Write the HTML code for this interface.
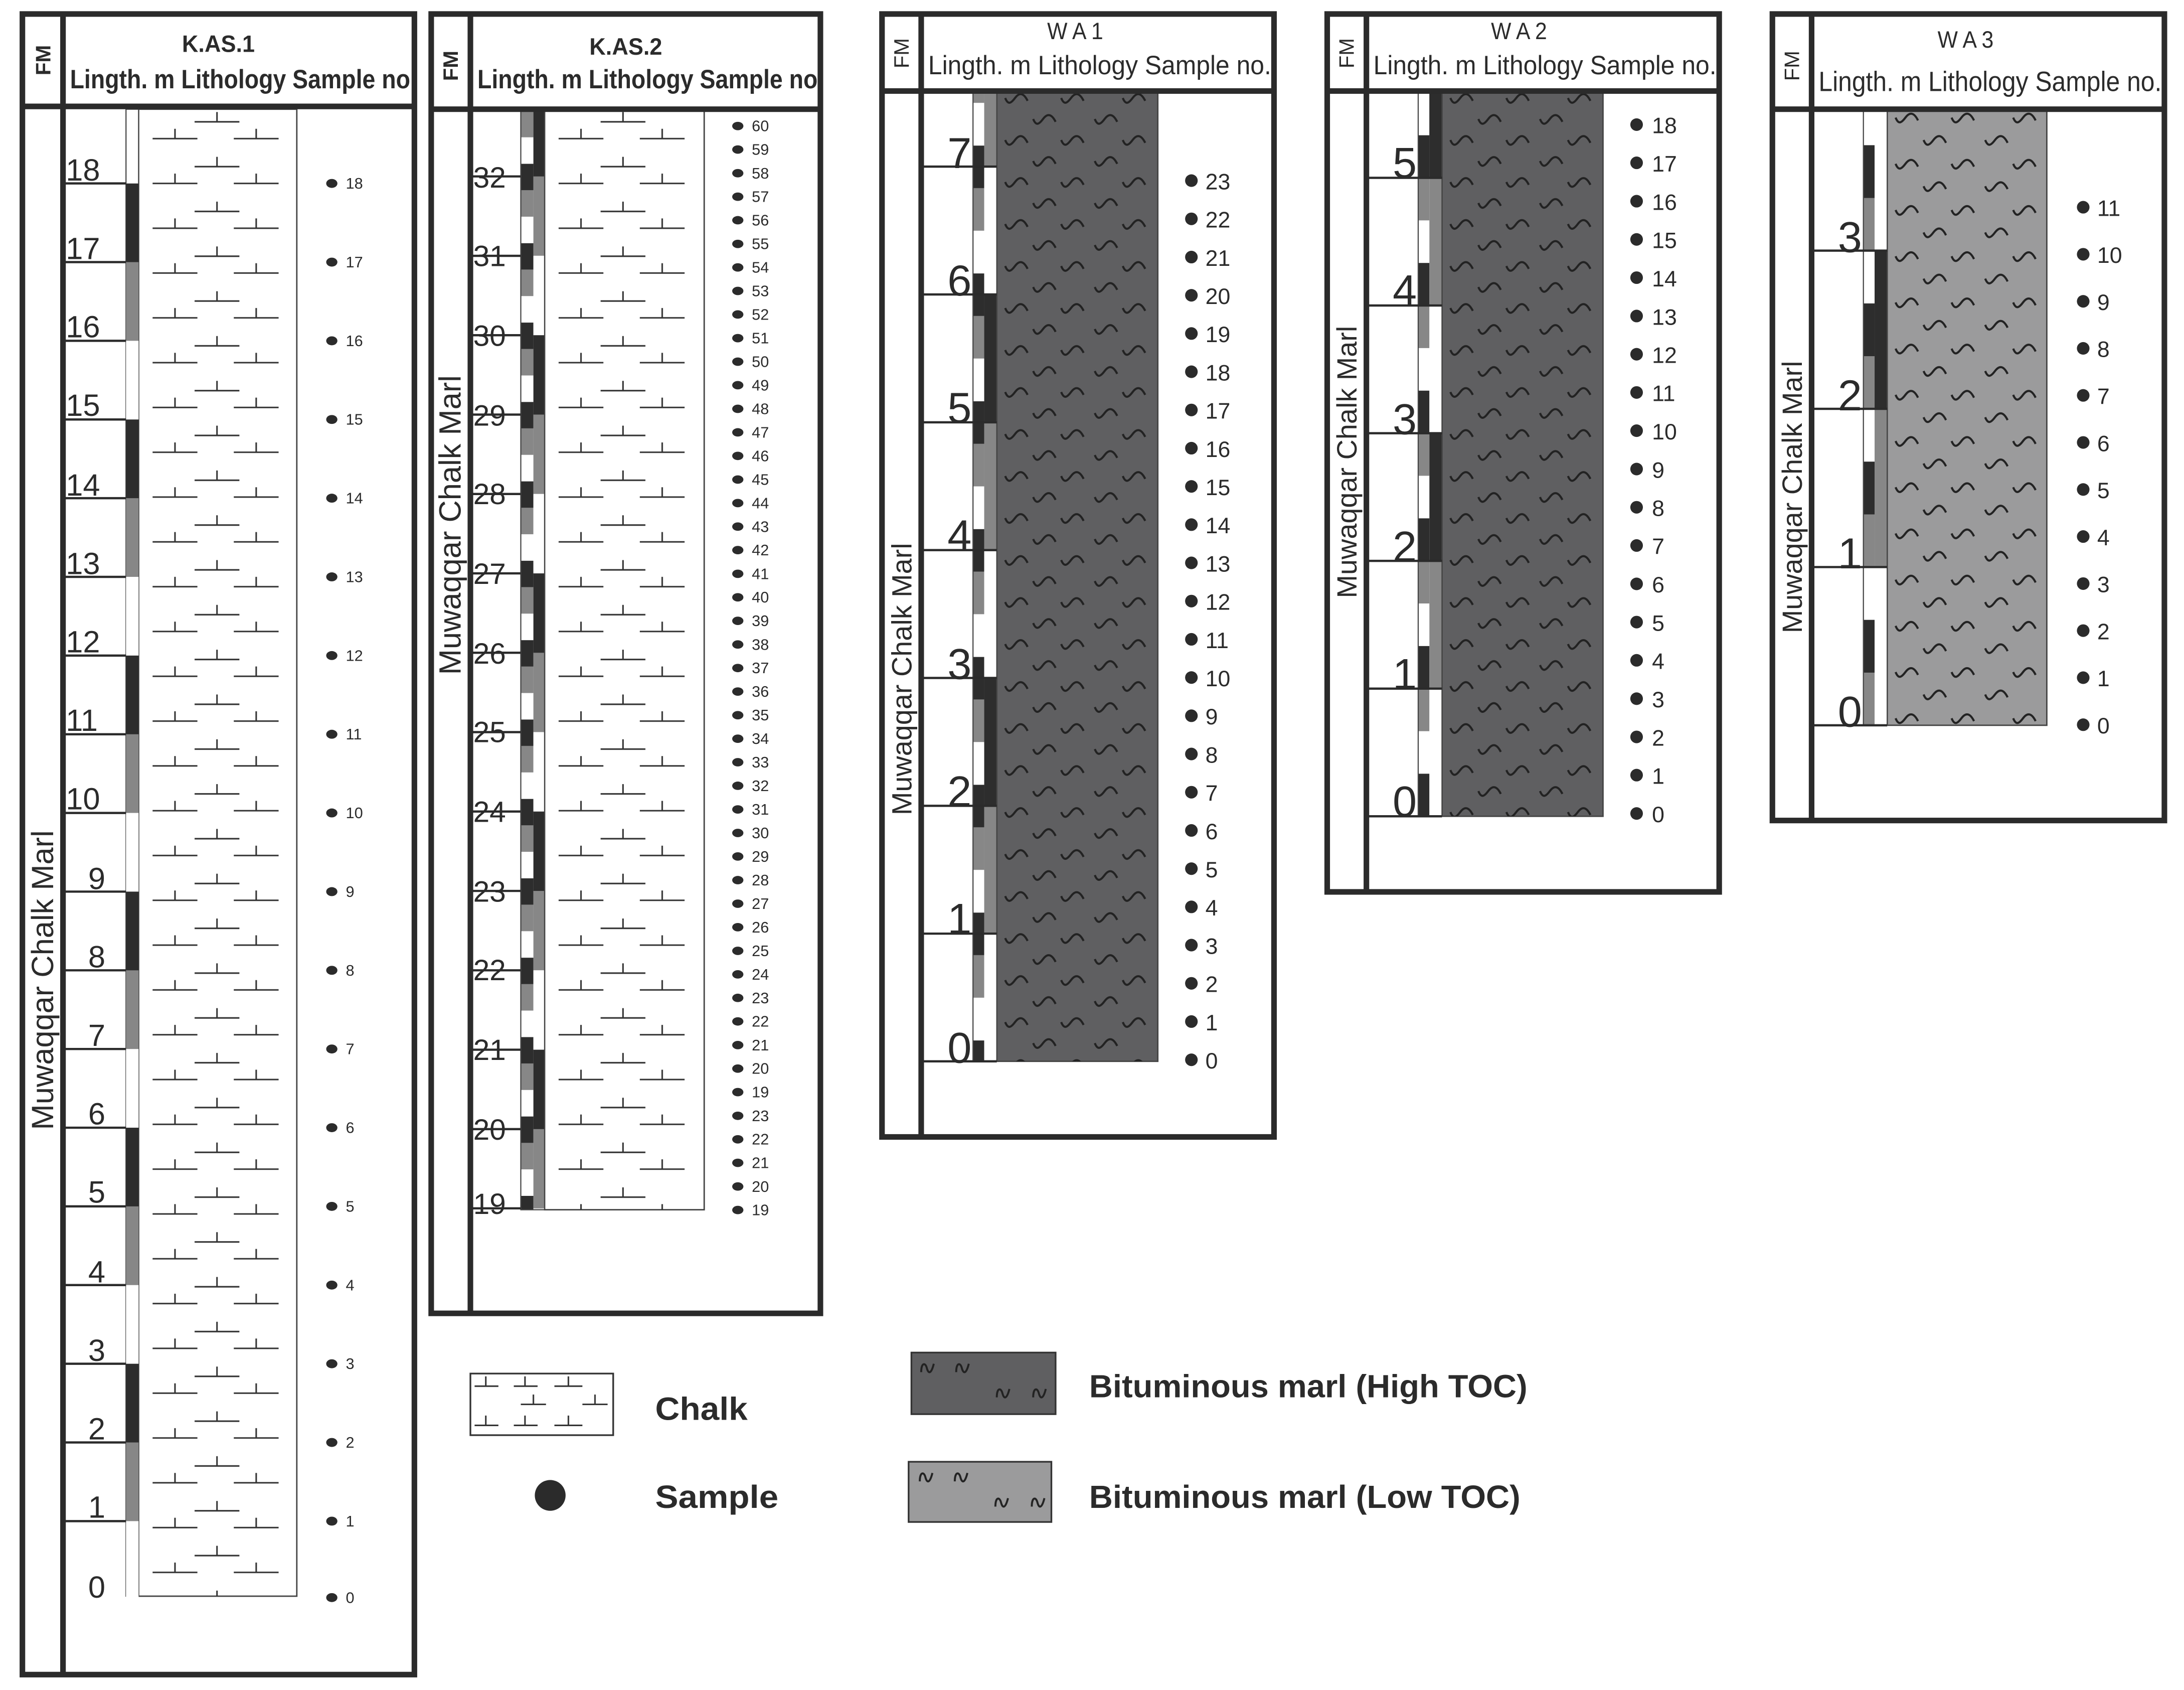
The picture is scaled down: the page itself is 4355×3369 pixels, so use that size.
<!DOCTYPE html>
<html><head><meta charset="utf-8"><style>
html,body{margin:0;padding:0;background:#fff;}
svg{display:block;}
text{font-family:"Liberation Sans",sans-serif;fill:#2b2b2b;}
</style></head><body>
<svg width="4355" height="3369" viewBox="0 0 1560 1207" preserveAspectRatio="none" xmlns="http://www.w3.org/2000/svg">
<defs>
<pattern id="chalk" patternUnits="userSpaceOnUse" x="99" y="78" width="114" height="32">
<g stroke="#333" stroke-width="1.1" fill="none">
<path d="M40 9H72M56 9V2"/>
<path d="M10 21H42M26 21V14M68 21H100M84 21V14"/>
</g></pattern>
<pattern id="chalk2" patternUnits="userSpaceOnUse" x="389" y="78" width="114" height="32">
<g stroke="#333" stroke-width="1.1" fill="none">
<path d="M40 9H72M56 9V2"/>
<path d="M10 21H42M26 21V14M68 21H100M84 21V14"/>
</g></pattern>
<pattern id="chalkL" patternUnits="userSpaceOnUse" x="336" y="981" width="102" height="44">
<g stroke="#333" stroke-width="1.1" fill="none">
<path d="M3 9H20M11 9V2M31 9H48M39 9V2"/>
<path d="M36 22H54M45 22V15"/>
<path d="M3 37H20M11 37V30M31 37H48M39 37V30"/>
<path d="M60 9H80M70 9V2M80 22H98M89 22V15M60 37H80M70 37V30"/>
</g></pattern>
<pattern id="marl" patternUnits="userSpaceOnUse" x="712" y="65" width="115" height="30">
<g stroke="#222" stroke-width="1.5" fill="none">
<path d="M6 5c2 5 4 4 7 0s6-4 9 2M46 5c2 5 4 4 7 0s6-4 9 2M90 5c2 5 4 4 7 0s6-4 9 2"/>
<path d="M26 20c2 5 4 4 7 0s6-4 9 2M70 20c2 5 4 4 7 0s6-4 9 2"/>
</g></pattern>
<pattern id="marl2" patternUnits="userSpaceOnUse" x="1030" y="65" width="115" height="30">
<g stroke="#222" stroke-width="1.5" fill="none">
<path d="M6 5c2 5 4 4 7 0s6-4 9 2M46 5c2 5 4 4 7 0s6-4 9 2M90 5c2 5 4 4 7 0s6-4 9 2"/>
<path d="M26 20c2 5 4 4 7 0s6-4 9 2M70 20c2 5 4 4 7 0s6-4 9 2"/>
</g></pattern>
<pattern id="marl3" patternUnits="userSpaceOnUse" x="1348" y="78" width="114" height="33">
<g stroke="#222" stroke-width="1.5" fill="none">
<path d="M6 6c2 5 4 4 7 0s6-4 9 2M46 6c2 5 4 4 7 0s6-4 9 2M90 6c2 5 4 4 7 0s6-4 9 2"/>
<path d="M26 22c2 5 4 4 7 0s6-4 9 2M70 22c2 5 4 4 7 0s6-4 9 2"/>
</g></pattern>
<pattern id="marlL" patternUnits="userSpaceOnUse" x="650" y="966" width="104" height="44">
<g stroke="#222" stroke-width="1.4" fill="none">
<path d="M8 14c0-7 3-7 4-3s3 5 5-3M33 14c0-7 3-7 4-3s3 5 5-3M62 32c0-7 3-7 4-3s3 5 5-3M88 32c0-7 3-7 4-3s3 5 5-3"/>
</g></pattern>
<pattern id="marlL2" patternUnits="userSpaceOnUse" x="649" y="1044" width="104" height="44">
<g stroke="#222" stroke-width="1.4" fill="none">
<path d="M8 14c0-7 3-7 4-3s3 5 5-3M33 14c0-7 3-7 4-3s3 5 5-3M62 32c0-7 3-7 4-3s3 5 5-3M88 32c0-7 3-7 4-3s3 5 5-3"/>
</g></pattern>
<pattern id="s1" patternUnits="userSpaceOnUse" x="0" y="131" width="20" height="168.6">
<rect y="0" width="20" height="56.2" fill="#2d2d2d"/><rect y="56.2" width="20" height="56.2" fill="#878787"/><rect y="112.4" width="20" height="56.2" fill="#fff"/></pattern>
<pattern id="k2L" patternUnits="userSpaceOnUse" x="0" y="117" width="20" height="56.7">
<rect y="0" width="20" height="18.9" fill="#2d2d2d"/><rect y="18.9" width="20" height="18.9" fill="#878787"/><rect y="37.8" width="20" height="18.9" fill="#fff"/></pattern>
<pattern id="k2R" patternUnits="userSpaceOnUse" x="0" y="126" width="20" height="170.1">
<rect y="0" width="20" height="56.7" fill="#878787"/><rect y="56.7" width="20" height="56.7" fill="#fff"/><rect y="113.4" width="20" height="56.7" fill="#2d2d2d"/></pattern>
<pattern id="w1L" patternUnits="userSpaceOnUse" x="0" y="104" width="20" height="91.3">
<rect y="0" width="20" height="30.4" fill="#2d2d2d"/><rect y="30.4" width="20" height="30.4" fill="#878787"/><rect y="60.8" width="20" height="30.5" fill="#fff"/></pattern>
<pattern id="w1R" patternUnits="userSpaceOnUse" x="0" y="119" width="20" height="273.9">
<rect y="0" width="20" height="91.3" fill="#fff"/><rect y="91.3" width="20" height="91.3" fill="#2d2d2d"/><rect y="182.6" width="20" height="91.3" fill="#878787"/></pattern>
<pattern id="w2L" patternUnits="userSpaceOnUse" x="0" y="127" width="20" height="91.2">
<rect y="0" width="20" height="30.4" fill="#878787"/><rect y="30.4" width="20" height="30.4" fill="#fff"/><rect y="60.8" width="20" height="30.4" fill="#2d2d2d"/></pattern>
<pattern id="w2R" patternUnits="userSpaceOnUse" x="0" y="127" width="20" height="273.6">
<rect y="0" width="20" height="91.2" fill="#878787"/><rect y="91.2" width="20" height="91.2" fill="#fff"/><rect y="182.4" width="20" height="91.2" fill="#2d2d2d"/></pattern>
<pattern id="w3L" patternUnits="userSpaceOnUse" x="0" y="179" width="20" height="113">
<rect y="0" width="20" height="37.7" fill="#fff"/><rect y="37.7" width="20" height="37.7" fill="#2d2d2d"/><rect y="75.4" width="20" height="37.6" fill="#878787"/></pattern>
<pattern id="w3R" patternUnits="userSpaceOnUse" x="0" y="179" width="20" height="339">
<rect y="0" width="20" height="113" fill="#2d2d2d"/><rect y="113" width="20" height="113" fill="#878787"/><rect y="226" width="20" height="113" fill="#fff"/></pattern>
</defs>

<!-- K.AS.1 -->
<rect x="99" y="78" width="113" height="1062" fill="#fff" stroke="#444" stroke-width="1"/>
<rect x="99" y="78" width="113" height="1062" fill="url(#chalk)"/>
<rect x="90" y="78" width="9" height="1062" fill="#fff" stroke="#444" stroke-width="0.8"/>
<rect x="90" y="131" width="9" height="1011" fill="url(#s1)"/>
<path d="M45 131H90M45 187.2H90M45 243.4H90M45 299.6H90M45 355.8H90M45 412H90M45 468.2H90M45 524.4H90M45 580.6H90M45 636.8H90M45 693H90M45 749.2H90M45 805.4H90M45 861.6H90M45 917.8H90M45 974H90M45 1030.2H90M45 1086.4H90" stroke="#2b2b2b" stroke-width="1.6"/>
<rect x="16" y="10" width="280" height="1186" fill="none" stroke="#2b2b2b" stroke-width="4"/>
<path d="M45 10V1196M16 76H296" stroke="#2b2b2b" stroke-width="4"/>
<text x="156" y="37" font-size="17" font-weight="bold" text-anchor="middle" textLength="52" lengthAdjust="spacingAndGlyphs">K.AS.1</text>
<text x="50" y="63" font-size="19" font-weight="bold" textLength="243" lengthAdjust="spacingAndGlyphs">Lingth. m  Lithology  Sample no</text>
<text transform="translate(36,43) rotate(-90)" font-size="15" font-weight="bold" text-anchor="middle">FM</text>
<text transform="translate(38,700) rotate(-90)" font-size="22" text-anchor="middle">Muwaqqar Chalk Marl</text>
<g font-size="22">
<text x="47" y="129">18</text><text x="47" y="185">17</text><text x="47" y="241">16</text><text x="47" y="297">15</text><text x="47" y="354">14</text><text x="47" y="410">13</text><text x="47" y="466">12</text><text x="47" y="522">11</text><text x="47" y="578">10</text><text x="63" y="635">9</text><text x="63" y="691">8</text><text x="63" y="747">7</text><text x="63" y="803">6</text><text x="63" y="859">5</text><text x="63" y="916">4</text><text x="63" y="972">3</text><text x="63" y="1028">2</text><text x="63" y="1084">1</text><text x="63" y="1141">0</text>
</g>
<g fill="#2b2b2b">
<ellipse cx="237" cy="131" rx="4" ry="3.2"/><ellipse cx="237" cy="187.2" rx="4" ry="3.2"/><ellipse cx="237" cy="243.4" rx="4" ry="3.2"/><ellipse cx="237" cy="299.6" rx="4" ry="3.2"/><ellipse cx="237" cy="355.8" rx="4" ry="3.2"/><ellipse cx="237" cy="412" rx="4" ry="3.2"/><ellipse cx="237" cy="468.2" rx="4" ry="3.2"/><ellipse cx="237" cy="524.4" rx="4" ry="3.2"/><ellipse cx="237" cy="580.6" rx="4" ry="3.2"/><ellipse cx="237" cy="636.8" rx="4" ry="3.2"/><ellipse cx="237" cy="693" rx="4" ry="3.2"/><ellipse cx="237" cy="749.2" rx="4" ry="3.2"/><ellipse cx="237" cy="805.4" rx="4" ry="3.2"/><ellipse cx="237" cy="861.6" rx="4" ry="3.2"/><ellipse cx="237" cy="917.8" rx="4" ry="3.2"/><ellipse cx="237" cy="974" rx="4" ry="3.2"/><ellipse cx="237" cy="1030.2" rx="4" ry="3.2"/><ellipse cx="237" cy="1086.4" rx="4" ry="3.2"/><ellipse cx="237" cy="1141" rx="4" ry="3.2"/>
</g>
<g font-size="11" dominant-baseline="central">
<text x="247" y="131">18</text><text x="247" y="187.2">17</text><text x="247" y="243.4">16</text><text x="247" y="299.6">15</text><text x="247" y="355.8">14</text><text x="247" y="412">13</text><text x="247" y="468.2">12</text><text x="247" y="524.4">11</text><text x="247" y="580.6">10</text><text x="247" y="636.8">9</text><text x="247" y="693">8</text><text x="247" y="749.2">7</text><text x="247" y="805.4">6</text><text x="247" y="861.6">5</text><text x="247" y="917.8">4</text><text x="247" y="974">3</text><text x="247" y="1030.2">2</text><text x="247" y="1086.4">1</text><text x="247" y="1141">0</text>
</g>

<!-- K.AS.2 -->
<rect x="389" y="78" width="114" height="786" fill="#fff" stroke="#444" stroke-width="1"/>
<rect x="389" y="78" width="114" height="786" fill="url(#chalk2)"/>
<rect x="372" y="78" width="9" height="786" fill="url(#k2L)"/>
<rect x="381" y="78" width="8" height="786" fill="url(#k2R)"/>
<rect x="372" y="78" width="17" height="786" fill="none" stroke="#444" stroke-width="0.8"/>
<path d="M336 126H372M336 182.7H372M336 239.4H372M336 296.1H372M336 352.8H372M336 409.5H372M336 466.2H372M336 522.9H372M336 579.6H372M336 636.3H372M336 693H372M336 749.7H372M336 806.4H372M336 863H372" stroke="#2b2b2b" stroke-width="1.6"/>
<rect x="308" y="10" width="278" height="928" fill="none" stroke="#2b2b2b" stroke-width="4"/>
<path d="M336 10V938M308 78H586" stroke="#2b2b2b" stroke-width="4"/>
<text x="447" y="39" font-size="17" font-weight="bold" text-anchor="middle" textLength="52" lengthAdjust="spacingAndGlyphs">K.AS.2</text>
<text x="341" y="63" font-size="19" font-weight="bold" textLength="243" lengthAdjust="spacingAndGlyphs">Lingth. m  Lithology  Sample no</text>
<text transform="translate(327,47) rotate(-90)" font-size="15" font-weight="bold" text-anchor="middle">FM</text>
<text transform="translate(329,375) rotate(-90)" font-size="22" text-anchor="middle">Muwaqqar Chalk Marl</text>
<g font-size="21">
<text x="338" y="134">32</text><text x="338" y="190">31</text><text x="338" y="247">30</text><text x="338" y="304">29</text><text x="338" y="360">28</text><text x="338" y="417">27</text><text x="338" y="474">26</text><text x="338" y="530">25</text><text x="338" y="587">24</text><text x="338" y="644">23</text><text x="338" y="700">22</text><text x="338" y="757">21</text><text x="338" y="814">20</text><text x="338" y="867">19</text>
</g>
<g fill="#2b2b2b">
<ellipse cx="527" cy="90" rx="4" ry="3"/><ellipse cx="527" cy="106.8" rx="4" ry="3"/><ellipse cx="527" cy="123.7" rx="4" ry="3"/><ellipse cx="527" cy="140.5" rx="4" ry="3"/><ellipse cx="527" cy="157.3" rx="4" ry="3"/><ellipse cx="527" cy="174.2" rx="4" ry="3"/><ellipse cx="527" cy="191" rx="4" ry="3"/><ellipse cx="527" cy="207.8" rx="4" ry="3"/><ellipse cx="527" cy="224.6" rx="4" ry="3"/><ellipse cx="527" cy="241.5" rx="4" ry="3"/><ellipse cx="527" cy="258.3" rx="4" ry="3"/><ellipse cx="527" cy="275.1" rx="4" ry="3"/><ellipse cx="527" cy="292" rx="4" ry="3"/><ellipse cx="527" cy="308.8" rx="4" ry="3"/><ellipse cx="527" cy="325.6" rx="4" ry="3"/><ellipse cx="527" cy="342.5" rx="4" ry="3"/><ellipse cx="527" cy="359.3" rx="4" ry="3"/><ellipse cx="527" cy="376.1" rx="4" ry="3"/><ellipse cx="527" cy="392.9" rx="4" ry="3"/><ellipse cx="527" cy="409.8" rx="4" ry="3"/><ellipse cx="527" cy="426.6" rx="4" ry="3"/><ellipse cx="527" cy="443.4" rx="4" ry="3"/><ellipse cx="527" cy="460.3" rx="4" ry="3"/><ellipse cx="527" cy="477.1" rx="4" ry="3"/><ellipse cx="527" cy="493.9" rx="4" ry="3"/><ellipse cx="527" cy="510.8" rx="4" ry="3"/><ellipse cx="527" cy="527.6" rx="4" ry="3"/><ellipse cx="527" cy="544.4" rx="4" ry="3"/><ellipse cx="527" cy="561.2" rx="4" ry="3"/><ellipse cx="527" cy="578.1" rx="4" ry="3"/><ellipse cx="527" cy="594.9" rx="4" ry="3"/><ellipse cx="527" cy="611.7" rx="4" ry="3"/><ellipse cx="527" cy="628.6" rx="4" ry="3"/><ellipse cx="527" cy="645.4" rx="4" ry="3"/><ellipse cx="527" cy="662.2" rx="4" ry="3"/><ellipse cx="527" cy="679.1" rx="4" ry="3"/><ellipse cx="527" cy="695.9" rx="4" ry="3"/><ellipse cx="527" cy="712.7" rx="4" ry="3"/><ellipse cx="527" cy="729.5" rx="4" ry="3"/><ellipse cx="527" cy="746.4" rx="4" ry="3"/><ellipse cx="527" cy="763.2" rx="4" ry="3"/><ellipse cx="527" cy="780" rx="4" ry="3"/><ellipse cx="527" cy="796.9" rx="4" ry="3"/><ellipse cx="527" cy="813.7" rx="4" ry="3"/><ellipse cx="527" cy="830.5" rx="4" ry="3"/><ellipse cx="527" cy="847.4" rx="4" ry="3"/><ellipse cx="527" cy="864.2" rx="4" ry="3"/>
</g>
<g font-size="11" dominant-baseline="central">
<text x="537" y="90">60</text><text x="537" y="106.8">59</text><text x="537" y="123.7">58</text><text x="537" y="140.5">57</text><text x="537" y="157.3">56</text><text x="537" y="174.2">55</text><text x="537" y="191">54</text><text x="537" y="207.8">53</text><text x="537" y="224.6">52</text><text x="537" y="241.5">51</text><text x="537" y="258.3">50</text><text x="537" y="275.1">49</text><text x="537" y="292">48</text><text x="537" y="308.8">47</text><text x="537" y="325.6">46</text><text x="537" y="342.5">45</text><text x="537" y="359.3">44</text><text x="537" y="376.1">43</text><text x="537" y="392.9">42</text><text x="537" y="409.8">41</text><text x="537" y="426.6">40</text><text x="537" y="443.4">39</text><text x="537" y="460.3">38</text><text x="537" y="477.1">37</text><text x="537" y="493.9">36</text><text x="537" y="510.8">35</text><text x="537" y="527.6">34</text><text x="537" y="544.4">33</text><text x="537" y="561.2">32</text><text x="537" y="578.1">31</text><text x="537" y="594.9">30</text><text x="537" y="611.7">29</text><text x="537" y="628.6">28</text><text x="537" y="645.4">27</text><text x="537" y="662.2">26</text><text x="537" y="679.1">25</text><text x="537" y="695.9">24</text><text x="537" y="712.7">23</text><text x="537" y="729.5">22</text><text x="537" y="746.4">21</text><text x="537" y="763.2">20</text><text x="537" y="780">19</text><text x="537" y="796.9">23</text><text x="537" y="813.7">22</text><text x="537" y="830.5">21</text><text x="537" y="847.4">20</text><text x="537" y="864.2">19</text>
</g>

<!-- W A 1 -->
<rect x="712" y="65" width="115" height="693" fill="#5f5f61" stroke="#444" stroke-width="1"/>
<rect x="712" y="65" width="115" height="693" fill="url(#marl)"/>
<rect x="695" y="65" width="8" height="693" fill="url(#w1L)"/>
<rect x="703" y="65" width="9" height="693" fill="url(#w1R)"/>
<rect x="695" y="65" width="17" height="693" fill="none" stroke="#444" stroke-width="0.8"/>
<path d="M658 119H712M658 210.3H712M658 301.6H712M658 392.9H712M658 484.2H712M658 575.5H712M658 666.8H712M658 758H712" stroke="#2b2b2b" stroke-width="1.6"/>
<rect x="630" y="10" width="280" height="802" fill="none" stroke="#2b2b2b" stroke-width="4"/>
<path d="M658 10V812M630 65H910" stroke="#2b2b2b" stroke-width="4"/>
<text x="768" y="28" font-size="17" text-anchor="middle" textLength="40" lengthAdjust="spacingAndGlyphs">W A 1</text>
<text x="663" y="53" font-size="19" textLength="245" lengthAdjust="spacingAndGlyphs">Lingth. m   Lithology    Sample no.</text>
<text transform="translate(649,38) rotate(-90)" font-size="15" text-anchor="middle">FM</text>
<text transform="translate(651,485) rotate(-90)" font-size="20" text-anchor="middle">Muwaqqar Chalk Marl</text>
<g font-size="31" text-anchor="end">
<text x="694" y="120">7</text><text x="694" y="211">6</text><text x="694" y="302">5</text><text x="694" y="393">4</text><text x="694" y="485">3</text><text x="694" y="576">2</text><text x="694" y="667">1</text><text x="694" y="759">0</text>
</g>
<g fill="#2b2b2b">
<circle cx="851" cy="129" r="4.5"/><circle cx="851" cy="156.3" r="4.5"/><circle cx="851" cy="183.6" r="4.5"/><circle cx="851" cy="210.9" r="4.5"/><circle cx="851" cy="238.2" r="4.5"/><circle cx="851" cy="265.5" r="4.5"/><circle cx="851" cy="292.8" r="4.5"/><circle cx="851" cy="320.1" r="4.5"/><circle cx="851" cy="347.4" r="4.5"/><circle cx="851" cy="374.7" r="4.5"/><circle cx="851" cy="402" r="4.5"/><circle cx="851" cy="429.3" r="4.5"/><circle cx="851" cy="456.6" r="4.5"/><circle cx="851" cy="483.9" r="4.5"/><circle cx="851" cy="511.2" r="4.5"/><circle cx="851" cy="538.5" r="4.5"/><circle cx="851" cy="565.8" r="4.5"/><circle cx="851" cy="593.1" r="4.5"/><circle cx="851" cy="620.4" r="4.5"/><circle cx="851" cy="647.7" r="4.5"/><circle cx="851" cy="675" r="4.5"/><circle cx="851" cy="702.3" r="4.5"/><circle cx="851" cy="729.6" r="4.5"/><circle cx="851" cy="756.9" r="4.5"/>
</g>
<g font-size="16" dominant-baseline="central">
<text x="861" y="130">23</text><text x="861" y="157.3">22</text><text x="861" y="184.6">21</text><text x="861" y="211.9">20</text><text x="861" y="239.2">19</text><text x="861" y="266.5">18</text><text x="861" y="293.8">17</text><text x="861" y="321.1">16</text><text x="861" y="348.4">15</text><text x="861" y="375.7">14</text><text x="861" y="403">13</text><text x="861" y="430.3">12</text><text x="861" y="457.6">11</text><text x="861" y="484.9">10</text><text x="861" y="512.2">9</text><text x="861" y="539.5">8</text><text x="861" y="566.8">7</text><text x="861" y="594.1">6</text><text x="861" y="621.4">5</text><text x="861" y="648.7">4</text><text x="861" y="676">3</text><text x="861" y="703.3">2</text><text x="861" y="730.6">1</text><text x="861" y="757.9">0</text>
</g>

<!-- W A 2 -->
<rect x="1030" y="65" width="115" height="518" fill="#5f5f61" stroke="#444" stroke-width="1"/>
<rect x="1030" y="65" width="115" height="518" fill="url(#marl2)"/>
<rect x="1013" y="65" width="8" height="518" fill="url(#w2L)"/>
<rect x="1021" y="65" width="9" height="518" fill="url(#w2R)"/>
<rect x="1021" y="65" width="9" height="62" fill="#2d2d2d"/>
<rect x="1013" y="65" width="17" height="518" fill="none" stroke="#444" stroke-width="0.8"/>
<path d="M976 127H1030M976 218.2H1030M976 309.4H1030M976 400.6H1030M976 491.8H1030M976 583H1030" stroke="#2b2b2b" stroke-width="1.6"/>
<rect x="948" y="10" width="280" height="627" fill="none" stroke="#2b2b2b" stroke-width="4"/>
<path d="M976 10V637M948 65H1228" stroke="#2b2b2b" stroke-width="4"/>
<text x="1085" y="28" font-size="17" text-anchor="middle" textLength="40" lengthAdjust="spacingAndGlyphs">W A 2</text>
<text x="981" y="53" font-size="19" textLength="245" lengthAdjust="spacingAndGlyphs">Lingth. m   Lithology    Sample no.</text>
<text transform="translate(967,38) rotate(-90)" font-size="15" text-anchor="middle">FM</text>
<text transform="translate(969,330) rotate(-90)" font-size="20" text-anchor="middle">Muwaqqar Chalk Marl</text>
<g font-size="31" text-anchor="end">
<text x="1012" y="127">5</text><text x="1012" y="218">4</text><text x="1012" y="310">3</text><text x="1012" y="401">2</text><text x="1012" y="492">1</text><text x="1012" y="583">0</text>
</g>
<g fill="#2b2b2b">
<circle cx="1169" cy="89" r="4.5"/><circle cx="1169" cy="116.3" r="4.5"/><circle cx="1169" cy="143.7" r="4.5"/><circle cx="1169" cy="171" r="4.5"/><circle cx="1169" cy="198.3" r="4.5"/><circle cx="1169" cy="225.7" r="4.5"/><circle cx="1169" cy="253" r="4.5"/><circle cx="1169" cy="280.3" r="4.5"/><circle cx="1169" cy="307.6" r="4.5"/><circle cx="1169" cy="335" r="4.5"/><circle cx="1169" cy="362.3" r="4.5"/><circle cx="1169" cy="389.6" r="4.5"/><circle cx="1169" cy="417" r="4.5"/><circle cx="1169" cy="444.3" r="4.5"/><circle cx="1169" cy="471.6" r="4.5"/><circle cx="1169" cy="499" r="4.5"/><circle cx="1169" cy="526.3" r="4.5"/><circle cx="1169" cy="553.6" r="4.5"/><circle cx="1169" cy="581" r="4.5"/>
</g>
<g font-size="16" dominant-baseline="central">
<text x="1180" y="90">18</text><text x="1180" y="117.3">17</text><text x="1180" y="144.7">16</text><text x="1180" y="172">15</text><text x="1180" y="199.3">14</text><text x="1180" y="226.7">13</text><text x="1180" y="254">12</text><text x="1180" y="281.3">11</text><text x="1180" y="308.6">10</text><text x="1180" y="336">9</text><text x="1180" y="363.3">8</text><text x="1180" y="390.6">7</text><text x="1180" y="418">6</text><text x="1180" y="445.3">5</text><text x="1180" y="472.6">4</text><text x="1180" y="500">3</text><text x="1180" y="527.3">2</text><text x="1180" y="554.6">1</text><text x="1180" y="582">0</text>
</g>

<!-- W A 3 -->
<rect x="1348" y="78" width="114" height="440" fill="#9b9b9c" stroke="#444" stroke-width="1"/>
<rect x="1348" y="78" width="114" height="440" fill="url(#marl3)"/>
<rect x="1331" y="78" width="8" height="440" fill="url(#w3L)"/>
<rect x="1339" y="78" width="9" height="440" fill="url(#w3R)"/>
<rect x="1339" y="78" width="9" height="101" fill="#fff"/>
<rect x="1331" y="78" width="17" height="440" fill="none" stroke="#444" stroke-width="0.8"/>
<path d="M1294 179H1348M1294 292H1348M1294 405H1348M1294 518H1348" stroke="#2b2b2b" stroke-width="1.6"/>
<rect x="1266" y="10" width="280" height="576" fill="none" stroke="#2b2b2b" stroke-width="4"/>
<path d="M1294 10V586M1266 78H1546" stroke="#2b2b2b" stroke-width="4"/>
<text x="1404" y="34" font-size="17" text-anchor="middle" textLength="40" lengthAdjust="spacingAndGlyphs">W A 3</text>
<text x="1299" y="65" font-size="20" textLength="245" lengthAdjust="spacingAndGlyphs">Lingth. m   Lithology    Sample no.</text>
<text transform="translate(1285,47) rotate(-90)" font-size="15" text-anchor="middle">FM</text>
<text transform="translate(1287,355) rotate(-90)" font-size="20" text-anchor="middle">Muwaqqar Chalk Marl</text>
<g font-size="31" text-anchor="end">
<text x="1330" y="180">3</text><text x="1330" y="293">2</text><text x="1330" y="406">1</text><text x="1330" y="519">0</text>
</g>
<g fill="#2b2b2b">
<circle cx="1488" cy="148" r="4.5"/><circle cx="1488" cy="181.6" r="4.5"/><circle cx="1488" cy="215.2" r="4.5"/><circle cx="1488" cy="248.8" r="4.5"/><circle cx="1488" cy="282.4" r="4.5"/><circle cx="1488" cy="316" r="4.5"/><circle cx="1488" cy="349.6" r="4.5"/><circle cx="1488" cy="383.2" r="4.5"/><circle cx="1488" cy="416.8" r="4.5"/><circle cx="1488" cy="450.4" r="4.5"/><circle cx="1488" cy="484" r="4.5"/><circle cx="1488" cy="517.6" r="4.5"/>
</g>
<g font-size="16" dominant-baseline="central">
<text x="1498" y="149">11</text><text x="1498" y="182.6">10</text><text x="1498" y="216.2">9</text><text x="1498" y="249.8">8</text><text x="1498" y="283.4">7</text><text x="1498" y="317">6</text><text x="1498" y="350.6">5</text><text x="1498" y="384.2">4</text><text x="1498" y="417.8">3</text><text x="1498" y="451.4">2</text><text x="1498" y="485">1</text><text x="1498" y="518.6">0</text>
</g>

<!-- Legend -->
<rect x="336" y="981" width="102" height="44" fill="#fff" stroke="#333" stroke-width="1.2"/>
<rect x="336" y="981" width="102" height="44" fill="url(#chalkL)"/>
<text x="468" y="1014" font-size="23" font-weight="bold" textLength="66" lengthAdjust="spacingAndGlyphs">Chalk</text>
<circle cx="393" cy="1068" r="11" fill="#2b2b2b"/>
<text x="468" y="1077" font-size="23" font-weight="bold" textLength="88" lengthAdjust="spacingAndGlyphs">Sample</text>
<rect x="651" y="966" width="103" height="44" fill="#5f5f61" stroke="#333" stroke-width="1.2"/>
<rect x="651" y="966" width="103" height="44" fill="url(#marlL)"/>
<text x="778" y="998" font-size="23" font-weight="bold" textLength="313" lengthAdjust="spacingAndGlyphs">Bituminous marl (High TOC)</text>
<rect x="649" y="1044" width="102" height="43" fill="#9b9b9c" stroke="#333" stroke-width="1.2"/>
<rect x="649" y="1044" width="102" height="43" fill="url(#marlL2)"/>
<text x="778" y="1077" font-size="23" font-weight="bold" textLength="308" lengthAdjust="spacingAndGlyphs">Bituminous marl (Low TOC)</text>
</svg>
</body></html>
